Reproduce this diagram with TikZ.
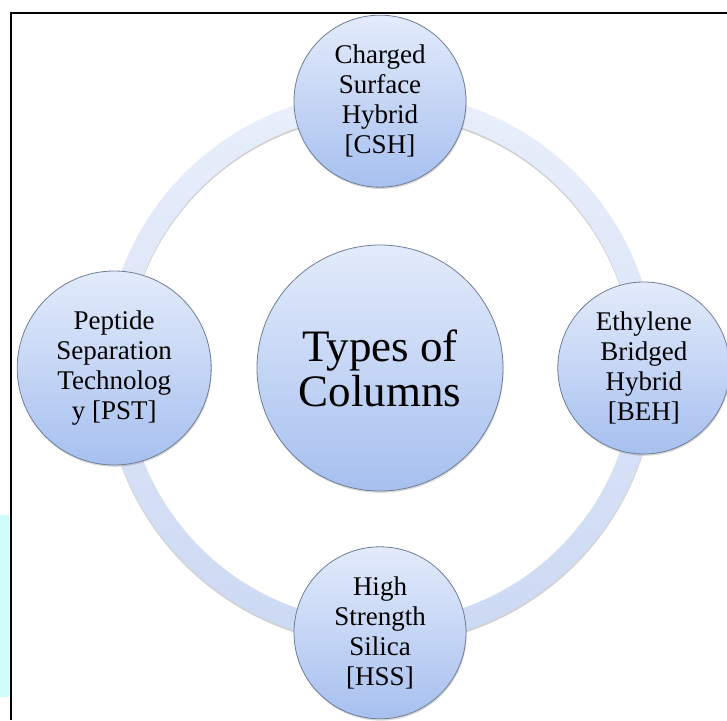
\documentclass[tikz,border=0pt]{standalone}
\usepackage{fontspec}
\setmainfont{Liberation Serif}
\usetikzlibrary{positioning, shadows}

\definecolor{discTop}{HTML}{E3EBFB}
\definecolor{discBot}{HTML}{A7C0EF}
\definecolor{discEdge}{HTML}{6E7E96}
\definecolor{ringTop}{HTML}{E9EFFB}
\definecolor{ringBot}{HTML}{CCD9F3}
\definecolor{stripCyan}{HTML}{CFFCFC}

\begin{document}
\begin{tikzpicture}[
  hub/.style={circle, draw=discEdge, line width=0.8pt, top color=discTop, bottom color=discBot, minimum size=246pt, inner sep=0pt, align=center, font=\fontsize{45pt}{45pt}\selectfont, drop shadow={shadow xshift=0.6pt, shadow yshift=-1.8pt, opacity=0.3}},
  spoke/.style={hub, minimum size=172pt, font=\fontsize{27pt}{30pt}\selectfont}
]
\useasboundingbox (-380pt,-352pt) rectangle (347pt,368pt);

% frame and the cyan strip at the left edge
\fill[stripCyan] (-380pt,-147pt) rectangle (-371pt,-329pt);
\draw[line width=2pt] (347pt,355pt) -| (-369pt,-352pt);

\node[hub] (hub) at (0,0) {Types of\\Columns};

% ring through the four outer discs
\fill[black, opacity=0.18, even odd rule] ([yshift=-2pt]hub.center) circle[radius=276pt] ([yshift=-2pt]hub.center) circle[radius=254pt];
\shade[even odd rule, top color=ringTop, bottom color=ringBot] (hub.center) circle[radius=276pt] (hub.center) circle[radius=254pt];

\node[spoke, above=57pt of hub] (csh) {Charged\\Surface\\Hybrid\\{[CSH]}};
\node[spoke, right=54pt of hub] (beh) {Ethylene\\Bridged\\Hybrid\\{[BEH]}};
\node[spoke, below=55pt of hub] (hss) {High\\Strength\\Silica\\{[HSS]}};
\node[spoke, minimum size=194pt, left=45pt of hub] (pst) {Peptide\\Separation\\Technolog\\y [PST]};
\end{tikzpicture}
\end{document}
